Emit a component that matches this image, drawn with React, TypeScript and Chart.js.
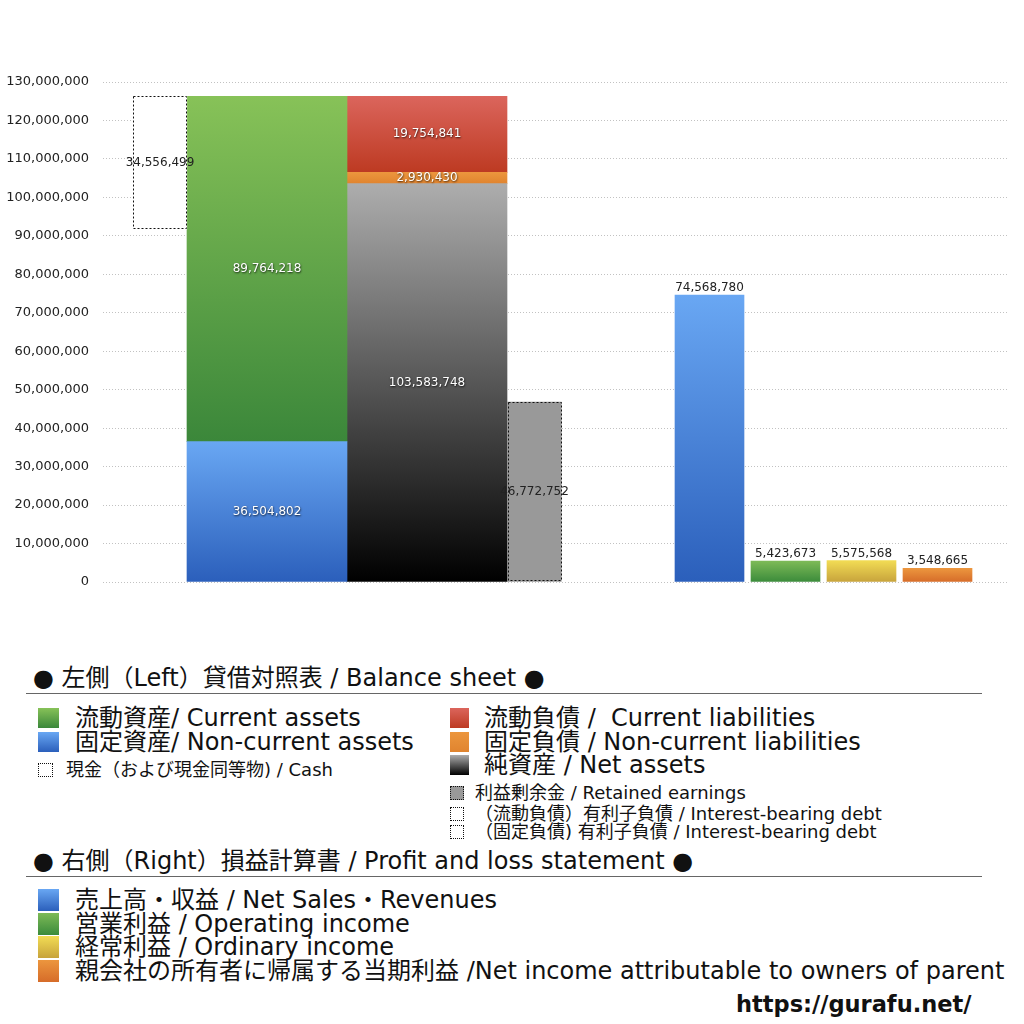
import { useEffect, useRef } from 'react';
import { Chart, registerables } from 'chart.js';

Chart.register(...registerables);

// --- data: balance sheet (left) ---
const assetLabels = ['固定資産', '流動資産'];
const assetValues = [36504802, 89764218];
const liabilityLabels = ['純資産', '固定負債', '流動負債'];
const liabilityValues = [103583748, 2930430, 19754841];
const cashLabel = '現金';
const cashValue = 34556499;
const retainedLabel = '利益剰余金';
const retainedValue = 46772752;

// --- data: profit and loss (right) ---
const plLabels = ['売上高・収益', '営業利益', '経常利益', '当期利益'];
const plValues = [74568780, 5423673, 5575568, 3548665];

const yMax = 130000000;
const yStep = 10000000;

// --- layout (x scale units = plot px) ---
const COL_CASH = 57;
const COL_ASSETS = 164;
const COL_LIAB = 324;
const COL_RETAINED = 431.5;
const COL_PL = [606.5, 682.5, 758.5, 834.5];
const W_WIDE = 160;
const W_NARROW = 53.5;
const W_PL = 69;

const FONT = '"DejaVu Sans", "Noto Sans CJK JP", sans-serif';

const C = {
  blue: ['#69a7f3', '#2b5fbb'],
  green: ['#87c258', '#3b873a'],
  red: ['#db655c', '#bd3a22'],
  orange: ['#ec963d', '#e0842f'],
  gray: ['#adadad', '#000000'],
  plGreen: ['#7dba57', '#3b8b3b'],
  yellow: ['#f2dc54', '#c7a33c'],
  plOrange: ['#ec963e', '#d66c29'],
};

const vgrad = (top: string, bottom: string) => (ctx: any) => {
  const chart = ctx.chart;
  const y = chart.scales && chart.scales.y;
  const raw = ctx.raw;
  if (!y || !raw || !chart.chartArea) return bottom;
  const [lo, hi] = raw.y;
  const g = chart.ctx.createLinearGradient(0, y.getPixelForValue(hi), 0, y.getPixelForValue(lo));
  g.addColorStop(0, top);
  g.addColorStop(1, bottom);
  return g;
};

function buildDatasets() {
  const sets: any[] = [];
  const assetsTotal = assetValues.reduce((a, b) => a + b, 0);

  sets.push({
    label: cashLabel,
    data: [{ x: COL_CASH, y: [assetsTotal - cashValue, assetsTotal] }],
    backgroundColor: '#ffffff',
    barThickness: W_NARROW,
    dotted: true,
    labelColor: 'dark',
  });

  const assetColors = [C.blue, C.green];
  let acc = 0;
  assetValues.forEach((v, i) => {
    sets.push({
      label: assetLabels[i],
      data: [{ x: COL_ASSETS, y: [acc, acc + v] }],
      backgroundColor: vgrad(assetColors[i][0], assetColors[i][1]),
      barThickness: W_WIDE,
      labelColor: 'light',
    });
    acc += v;
  });

  const liabColors = [C.gray, C.orange, C.red];
  acc = 0;
  liabilityValues.forEach((v, i) => {
    sets.push({
      label: liabilityLabels[i],
      data: [{ x: COL_LIAB, y: [acc, acc + v] }],
      backgroundColor: vgrad(liabColors[i][0], liabColors[i][1]),
      barThickness: W_WIDE,
      labelColor: 'light',
    });
    acc += v;
  });

  sets.push({
    label: retainedLabel,
    data: [{ x: COL_RETAINED, y: [0, retainedValue] }],
    backgroundColor: '#999999',
    barThickness: W_NARROW,
    dotted: true,
    labelColor: 'dark',
  });

  const plColors = [C.blue, C.plGreen, C.yellow, C.plOrange];
  plValues.forEach((v, i) => {
    sets.push({
      label: plLabels[i],
      data: [{ x: COL_PL[i], y: [0, v] }],
      backgroundColor: vgrad(plColors[i][0], plColors[i][1]),
      barThickness: W_PL,
      labelPos: 'top',
    });
  });

  return sets.map((s) => ({ ...s, grouped: false, borderWidth: 0 }));
}

const valueLabels = {
  id: 'valueLabels',
  afterDatasetsDraw(chart: any) {
    const { ctx } = chart;
    chart.data.datasets.forEach((ds: any, i: number) => {
      const el = chart.getDatasetMeta(i).data[0];
      if (!el) return;
      const { x, y, base, width } = el.getProps(['x', 'y', 'base', 'width'], true);
      const [lo, hi] = ds.data[0].y;
      const text = (hi - lo).toLocaleString('en-US');
      ctx.save();
      if (ds.dotted) {
        ctx.setLineDash([2, 2]);
        ctx.strokeStyle = '#111';
        ctx.lineWidth = 1;
        ctx.strokeRect(Math.round(x - width / 2) + 0.5, Math.round(y) + 0.5, Math.round(width) - 1, Math.round(base - y) - 1);
        ctx.setLineDash([]);
      }
      ctx.font = '12px ' + FONT;
      ctx.textAlign = 'center';
      if (ds.labelPos === 'top') {
        ctx.fillStyle = '#222';
        ctx.textBaseline = 'bottom';
        ctx.fillText(text, x, y - 1);
      } else {
        ctx.textBaseline = 'middle';
        if (ds.labelColor === 'light') {
          ctx.shadowColor = 'rgba(0,0,0,0.8)';
          ctx.shadowBlur = 2;
          ctx.shadowOffsetX = 0.5;
          ctx.shadowOffsetY = 1;
          ctx.fillStyle = '#ffffff';
        } else {
          ctx.fillStyle = '#222';
        }
        ctx.fillText(text, x, (y + base) / 2);
      }
      ctx.restore();
    });
  },
};

function BalanceChart() {
  const canvasRef = useRef<HTMLCanvasElement>(null);
  const chartRef = useRef<Chart | null>(null);

  useEffect(() => {
    if (!canvasRef.current) return;
    if (chartRef.current) { chartRef.current.destroy(); chartRef.current = null; }
    const ctx = canvasRef.current.getContext('2d');
    if (!ctx) return;

    chartRef.current = new Chart(ctx, {
      type: 'bar',
      data: { datasets: buildDatasets() },
      plugins: [valueLabels],
      options: {
        animation: false,
        responsive: true,
        maintainAspectRatio: false,
        layout: { padding: { left: 0, right: 17, top: 82, bottom: 28 } },
        plugins: { legend: { display: false }, tooltip: { enabled: false } },
        scales: {
          x: {
            type: 'linear',
            min: 0,
            max: 904,
            offset: false,
            display: false,
          },
          y: {
            min: 0,
            max: yMax,
            afterFit: (s: any) => { s.width = 103; },
            ticks: {
              stepSize: yStep,
              padding: 14,
              color: '#222',
              font: { family: FONT, size: 13 },
              callback: (v: any) => Number(v).toLocaleString('en-US'),
            },
            grid: { color: '#c2c2c2', lineWidth: 1, drawTicks: false },
            border: { display: false, dash: [1, 2] },
          },
        },
      } as any,
    });

    return () => { chartRef.current?.destroy(); chartRef.current = null; };
  }, []);

  return (
    <div style={{ position: 'absolute', left: 0, top: 0, width: 1024, height: 610 }}>
      <canvas ref={canvasRef} />
    </div>
  );
}

const grad = (c: string[]) => `linear-gradient(to bottom, ${c[0]}, ${c[1]})`;

function Row(props: {
  cy: number; x: number; textX: number; size: number;
  sw: number; sh: number; bg?: string; dotted?: boolean; children: any;
}) {
  const { cy, x, textX, size, sw, sh, bg, dotted, children } = props;
  const lh = size + 4;
  return (
    <>
      <div style={{
        position: 'absolute', left: x, top: cy - sh / 2, width: sw, height: sh,
        background: bg || 'transparent', boxSizing: 'border-box',
        border: dotted ? '1px dotted #111' : 'none',
      }} />
      <div style={{
        position: 'absolute', left: textX, top: cy - lh / 2, lineHeight: lh + 'px',
        fontSize: size, whiteSpace: 'pre', color: '#111',
      }}>{children}</div>
    </>
  );
}

function Heading({ cy, lineY, children }: { cy: number; lineY: number; children: any }) {
  return (
    <>
      <div style={{
        position: 'absolute', left: 33, top: cy - 15, lineHeight: '30px',
        fontSize: 24, whiteSpace: 'pre', color: '#111',
      }}>{children}</div>
      <div style={{ position: 'absolute', left: 26, top: lineY, width: 956, height: 0, borderTop: '1.5px solid #666' }} />
    </>
  );
}

export default function App() {
  return (
    <div style={{ position: 'absolute', left: 0, top: 0, width: 1024, height: 1024, background: '#fff', fontFamily: FONT, overflow: 'hidden' }}>
      <BalanceChart />

      <Heading cy={678} lineY={693}>● 左側（Left）貸借対照表 / Balance sheet ●</Heading>

      <Row cy={718} x={38} textX={75} size={24} sw={21} sh={20} bg={grad(C.green)}>流動資産/ Current assets</Row>
      <Row cy={742} x={38} textX={75} size={24} sw={21} sh={20} bg={grad(C.blue)}>固定資産/ Non-current assets</Row>
      <Row cy={770} x={38} textX={66} size={18} sw={15} sh={14} dotted>現金（および現金同等物) / Cash</Row>

      <Row cy={718} x={450} textX={484} size={24} sw={19} sh={20} bg={grad(C.red)}>{'流動負債 /  Current liabilities'}</Row>
      <Row cy={742} x={450} textX={484} size={24} sw={19} sh={20} bg={grad(C.orange)}>固定負債 / Non-current liabilities</Row>
      <Row cy={765} x={450} textX={484} size={24} sw={19} sh={20} bg={grad(C.gray)}>純資産 / Net assets</Row>
      <Row cy={793} x={450} textX={475} size={18} sw={14} sh={14} bg="#999" dotted>利益剰余金 / Retained earnings</Row>
      <Row cy={814} x={450} textX={475} size={18} sw={14} sh={14} dotted>（流動負債）有利子負債 / Interest-bearing debt</Row>
      <Row cy={832} x={450} textX={475} size={18} sw={14} sh={14} dotted>（固定負債) 有利子負債 / Interest-bearing debt</Row>

      <Heading cy={861} lineY={876}>● 右側（Right）損益計算書 / Profit and loss statement ●</Heading>

      <Row cy={900} x={38} textX={75} size={24} sw={21} sh={22} bg={grad(C.blue)}>売上高・収益 / Net Sales・Revenues</Row>
      <Row cy={924} x={38} textX={75} size={24} sw={21} sh={22} bg={grad(C.plGreen)}>営業利益 / Operating income</Row>
      <Row cy={947} x={38} textX={75} size={24} sw={21} sh={22} bg={grad(C.yellow)}>経常利益 / Ordinary income</Row>
      <Row cy={971} x={38} textX={75} size={24} sw={21} sh={22} bg={grad(C.plOrange)}>親会社の所有者に帰属する当期利益 /Net income attributable to owners of parent</Row>

      <div style={{
        position: 'absolute', left: 736, top: 990, lineHeight: '28px', fontSize: 22.5,
        fontWeight: 'bold', whiteSpace: 'nowrap', color: '#111',
      }}>https://gurafu.net/</div>
    </div>
  );
}
